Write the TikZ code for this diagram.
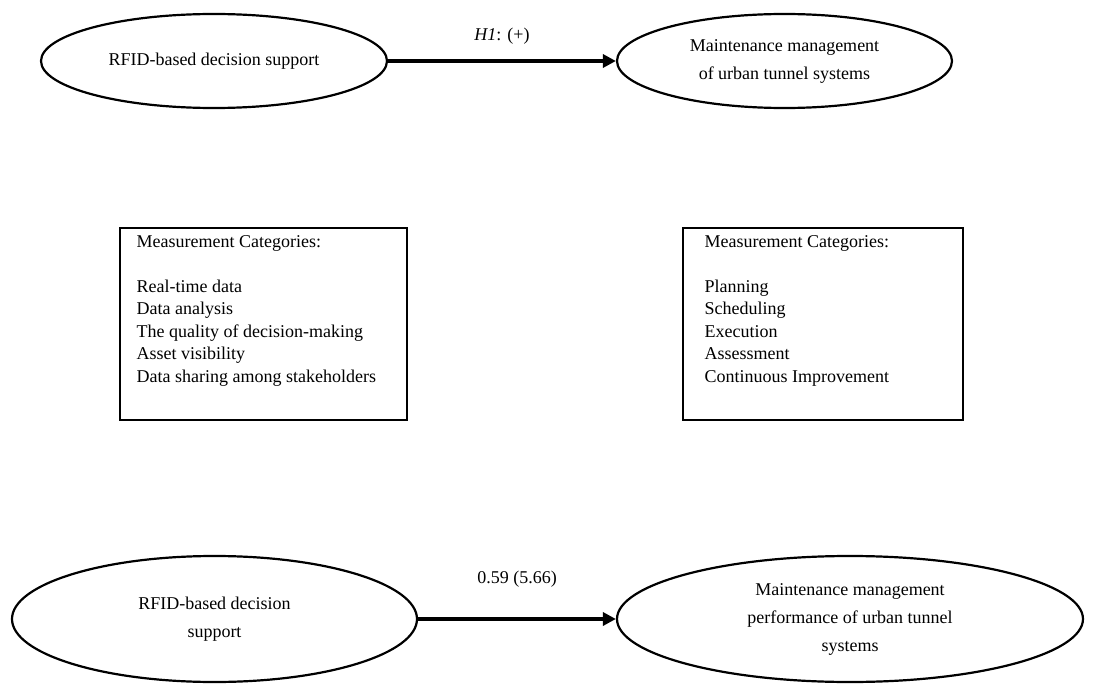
\documentclass[tikz,border=0pt]{standalone}
\usepackage{fontspec}
\setmainfont{Liberation Serif}
\usetikzlibrary{arrows.meta,shapes.geometric}
\begin{document}
\begin{tikzpicture}[x=1pt,y=-1pt,
  construct/.style={draw,line width=2.2pt,ellipse,inner sep=0pt,align=center,
    font=\fontsize{18}{28}\selectfont},
  catbox/.style={draw,line width=1.3pt,rectangle,inner sep=0pt},
  cattext/.style={anchor=north west,inner sep=0pt,align=left,
    font=\fontsize{18}{22.5}\selectfont},
  path/.style={line width=3.4pt,-{Triangle[length=13pt,width=13pt]}},
  pathlabel/.style={font=\fontsize{18}{22}\selectfont,inner sep=0pt}]
\useasboundingbox (0,0) rectangle (1093,698);

% hypothesised model
\node[construct,minimum width=346pt,minimum height=94pt] (rfidA) at (214,61)
  {RFID-based decision support};
\node[construct,minimum width=335pt,minimum height=94pt] (mmA) at (784.5,61)
  {Maintenance management\\of urban tunnel systems};
\draw[path] (rfidA.east) -- (mmA.west)
  node[pathlabel,midway,above=15pt] {\textit{H1}: (+)};

% measurement categories
\node[catbox,minimum width=287pt,minimum height=192pt] (catA) at (263.5,324) {};
\node[cattext] (catAtext) at ([xshift=17pt,yshift=-8pt]catA.north west)
  {Measurement Categories:\\[22.5pt]Real-time data\\Data analysis\\The quality of decision-making\\Asset visibility\\Data sharing among stakeholders};
\node[catbox,minimum width=280pt,minimum height=192pt] (catB) at (823,324) {};
\node[cattext] (catBtext) at ([xshift=22pt,yshift=-8pt]catB.north west)
  {Measurement Categories:\\[22.5pt]Planning\\Scheduling\\Execution\\Assessment\\Continuous Improvement};

% estimated model
\node[construct,minimum width=405pt,minimum height=126pt] (rfidB) at (214.5,619)
  {RFID-based decision\\support};
\node[construct,minimum width=466pt,minimum height=126pt] (mmB) at (850,619)
  {Maintenance management\\performance of urban tunnel\\systems};
\draw[path] (rfidB.east) -- (mmB.west)
  node[pathlabel,midway,above=30pt] {0.59 (5.66)};
\end{tikzpicture}
\end{document}
